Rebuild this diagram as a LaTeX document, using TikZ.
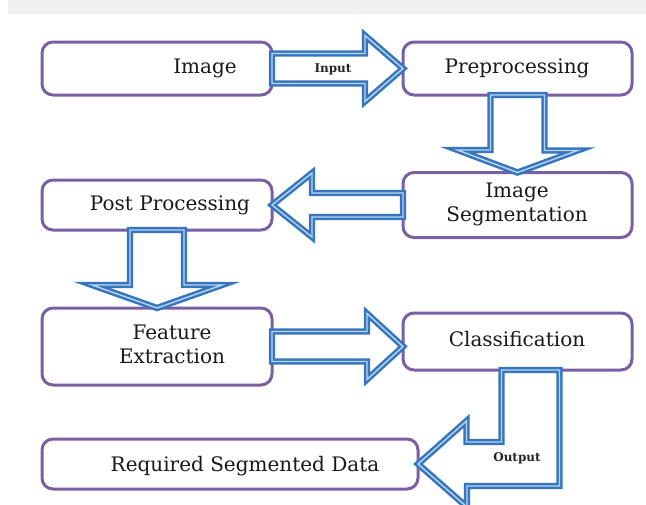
\documentclass[tikz,border=0pt]{standalone}
\usepackage{fontspec}
\setmainfont{DejaVu Serif}
\usetikzlibrary{calc}

\definecolor{boxpurple}{RGB}{120,96,162}
\definecolor{arrowblue}{RGB}{55,118,190}
\definecolor{arrowlight}{RGB}{185,214,240}

\tikzset{
  procbox/.style={draw=boxpurple, line width=3pt, rounded corners=11pt, fill=white, inner sep=0pt, outer sep=0pt},
  boxtext/.style={font=\fontsize{20}{24}\selectfont, text=black!90, align=center, inner sep=0pt},
  blockarrow/.style={draw=arrowblue, double=arrowlight, double distance=1.4pt, line width=2.5pt, fill=white, line join=miter},
  arrowtext/.style={font=\fontsize{12}{12}\selectfont\bfseries, text=black!85, inner sep=0pt}
}

\begin{document}
\begin{tikzpicture}[x=1pt,y=1pt,yscale=-1,xscale=1]
\useasboundingbox (0,0) rectangle (646,504);
\fill[black!6] (8,0) rectangle (646,14);

%Shape: Rounded Rect [id:img] 
\node[procbox, minimum width=230, minimum height=53] (img) at (157,68.5) {};
%Shape: Rounded Rect [id:pre] 
\node[procbox, minimum width=229, minimum height=53] (pre) at (517.5,68.5) {};
%Shape: Rounded Rect [id:seg] 
\node[procbox, minimum width=229, minimum height=65] (seg) at (517.5,205) {};
%Shape: Rounded Rect [id:post] 
\node[procbox, minimum width=230, minimum height=50] (post) at (157,205) {};
%Shape: Rounded Rect [id:feat] 
\node[procbox, minimum width=230, minimum height=77] (feat) at (157,346.5) {};
%Shape: Rounded Rect [id:cls] 
\node[procbox, minimum width=229, minimum height=57] (cls) at (517.5,341.5) {};
%Shape: Rounded Rect [id:req] 
\node[procbox, minimum width=376, minimum height=50] (req) at (230,464) {};

%Shape: Right Arrow [id:input] 
\draw[blockarrow] ($(img.east)+(0,-15)$) -- ++(93,0) -- ++(0,-18) -- (pre.west) -- ++(-38,33) -- ++(0,-18) -- ($(img.east)+(0,15)$) -- cycle ;
%Shape: Down Arrow [id:down1] 
\draw[blockarrow] ($(pre.south)+(-27,0)$) -- ++(0,55) -- ++(-33,0) -- (seg.north) -- ++(60,-22) -- ++(-33,0) -- ($(pre.south)+(27,0)$) -- cycle ;
%Shape: Left Arrow [id:left1] 
\draw[blockarrow] ($(seg.west)+(0,-12)$) -- ++(-91,0) -- ++(0,-20) -- (post.east) -- ++(40,32) -- ++(0,-20) -- ($(seg.west)+(0,12)$) -- cycle ;
%Shape: Down Arrow [id:down2] 
\draw[blockarrow] ($(post.south)+(-27,0)$) -- ++(0,55) -- ++(-38,0) -- (feat.north) -- ++(65,-23) -- ++(-38,0) -- ($(post.south)+(27,0)$) -- cycle ;
%Shape: Right Arrow [id:right2] 
\draw[blockarrow] ($(feat.east)+(0,-15)$) -- ++(95,0) -- ++(0,-18) -- (feat.east -| cls.west) -- ++(-36,33) -- ++(0,-18) -- ($(feat.east)+(0,15)$) -- cycle ;
%Shape: Bent Arrow [id:output] 
\draw[blockarrow] ($(cls.south)+(-16,0)$) |- ++(-35,72) -- ++(0,-21) -- (req.east) -- ++(49,43) -- ++(0,-21) -| ($(cls.south)+(42,0)$) -- cycle ;

% Text Node
\node[boxtext] (imgtxt) at (205,68) {Image};
% Text Node
\node[boxtext] (pretxt) at (517,68) {Preprocessing};
% Text Node
\node[boxtext] (segtxt) at (517,204) {Image\\Segmentation};
% Text Node
\node[boxtext] (posttxt) at (170,205) {Post Processing};
% Text Node
\node[boxtext] (feattxt) at (172,344) {Feature\\Extraction};
% Text Node
\node[boxtext] (clstxt) at (517,339) {Classification};
% Text Node
\node[boxtext] (reqtxt) at (245,466) {Required Segmented Data};
% Text Node
\node[arrowtext] (inlab) at (333,69) {Input};
% Text Node
\node[arrowtext] (outlab) at (517,458) {Output};

\end{tikzpicture}
\end{document}
